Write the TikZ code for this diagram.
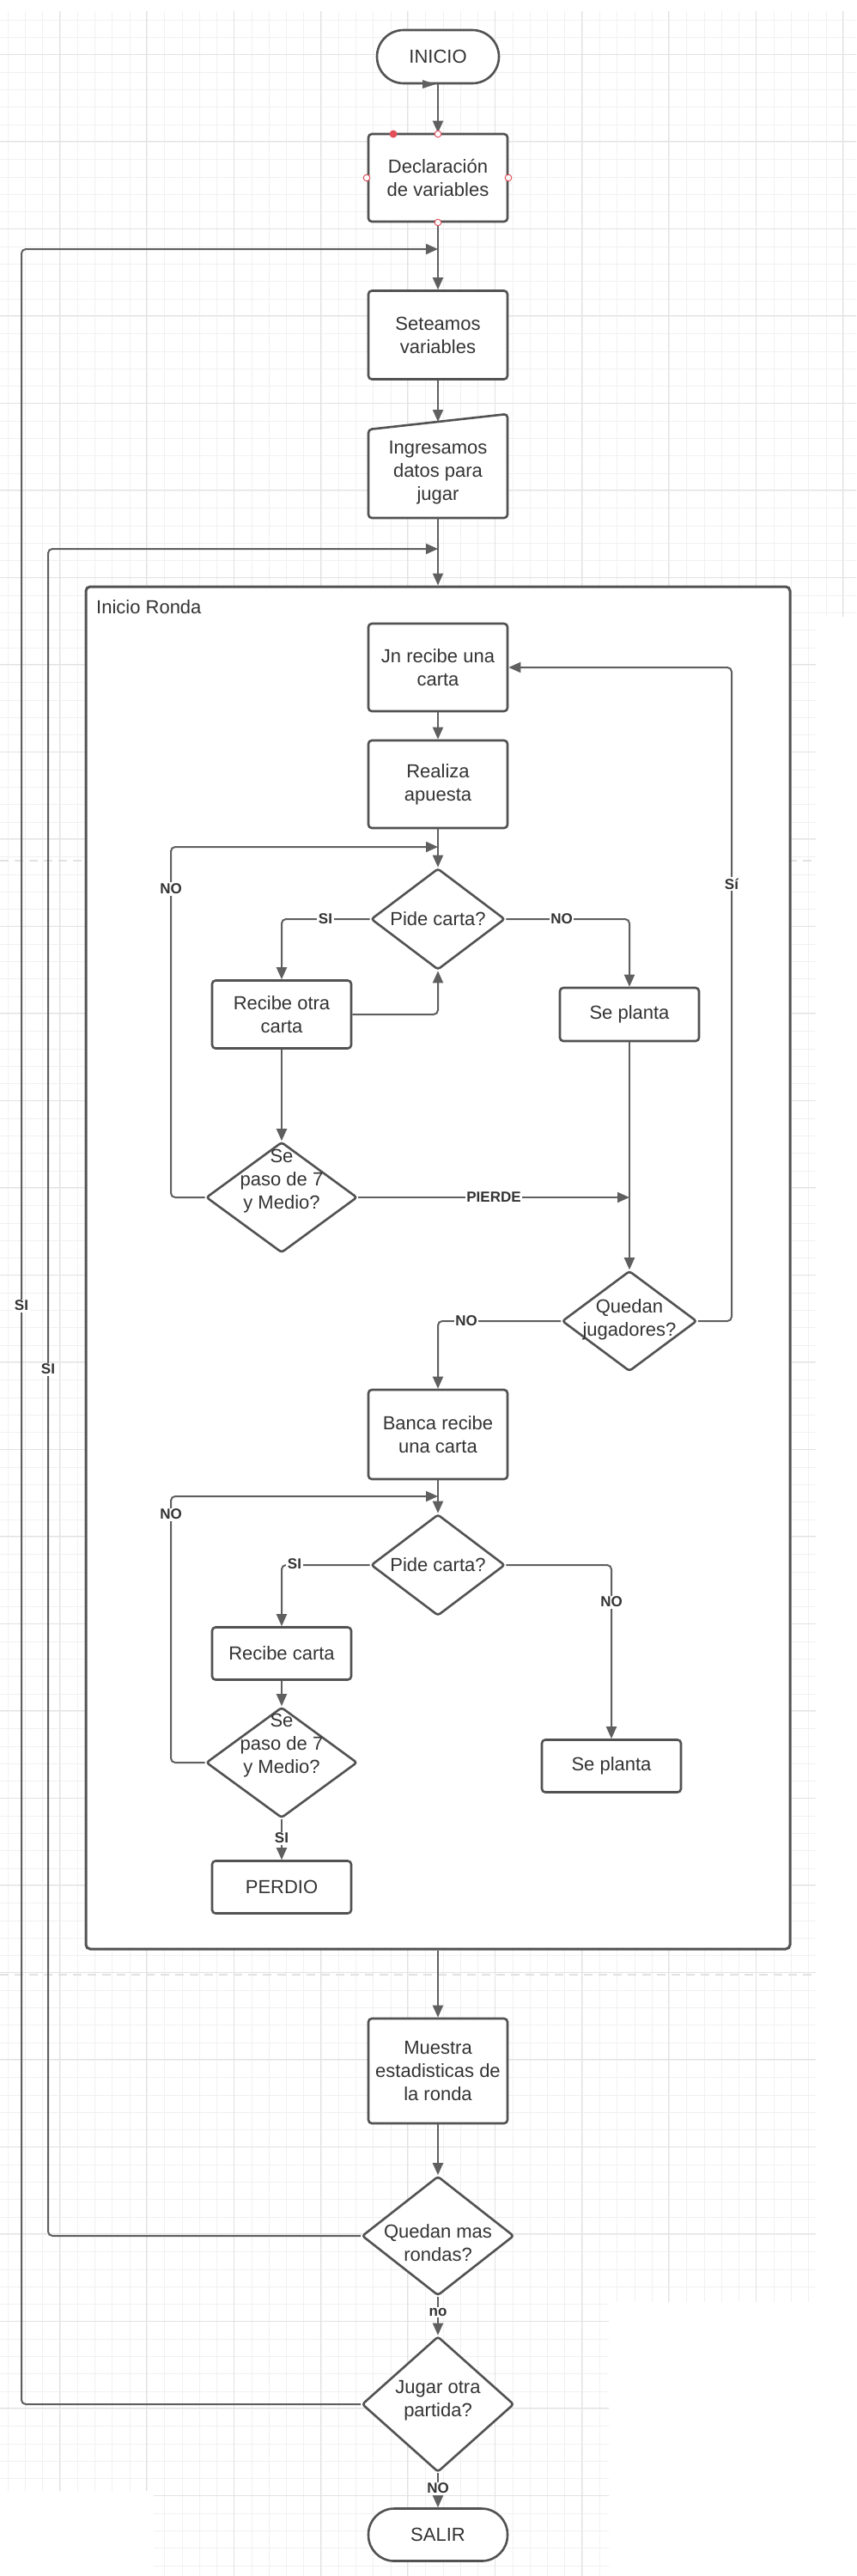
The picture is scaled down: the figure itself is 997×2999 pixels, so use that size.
\documentclass[tikz,border=0pt]{standalone}
\usepackage{fontspec}
\setmainfont{Liberation Sans}
\usetikzlibrary{arrows.meta,shapes.geometric}
\definecolor{linec}{RGB}{95,95,95}
\definecolor{boxc}{RGB}{82,82,82}
\definecolor{txtc}{RGB}{51,51,51}
\definecolor{gridminor}{RGB}{241,241,241}
\definecolor{gridmajor}{RGB}{226,226,226}
\definecolor{dotred}{RGB}{226,80,90}
\begin{document}
\begin{tikzpicture}[x=1pt,y=-1pt,
  box/.style={draw=boxc, line width=2.6pt, fill=white, rounded corners=4pt, minimum width=162pt, align=center, text=txtc, font=\fontsize{22pt}{27pt}\selectfont, inner sep=0pt},
  dia/.style={draw=boxc, line width=2.6pt, fill=white, diamond, rounded corners=3pt, inner sep=0pt},
  dtext/.style={align=center, text=txtc, font=\fontsize{22pt}{27pt}\selectfont, inner sep=0pt},
  conn/.style={draw=linec, line width=2pt, rounded corners=5pt},
  arr/.style={conn, -{Triangle[length=14pt,width=12pt]}},
  lbl/.style={fill=white, text=txtc, font=\fontsize{17pt}{20pt}\selectfont\bfseries, inner sep=1.5pt},
]
\useasboundingbox (0,0) rectangle (997,2999);
\fill[white] (0,0) rectangle (997,2999);
% background grid
\begin{scope}
\clip (0,13) rectangle (997,718) (0,718) rectangle (950,2680) (0,2680) rectangle (709,2900) (179,2900) rectangle (709,2999);
\foreach \i in {0,...,49} { \draw[gridminor, line width=1pt] ({9.3+\i*20.27},0) -- ++(0,3000); }
\foreach \i in {0,...,148} { \draw[gridminor, line width=1pt] (0,{3+\i*20.3}) -- ++(1000,0); }
\foreach \i in {0,...,9} { \draw[gridmajor, line width=1pt] ({69.3+\i*101.35},0) -- ++(0,3000); }
\foreach \i in {0,...,29} { \draw[gridmajor, line width=1pt] (0,{63.3+\i*101.5}) -- ++(1000,0); }
\end{scope}
\draw[gridmajor, line width=2pt, dash pattern=on 10pt off 7pt] (0,1002) -- (945,1002);
\draw[gridmajor, line width=2pt, dash pattern=on 10pt off 7pt] (0,2299) -- (948,2299);

% container
\node[draw=boxc, line width=3pt, fill=white, rounded corners=5pt, minimum width=820pt, minimum height=1586pt, inner sep=0pt] (ronda) at (510,1476) {};
\node[anchor=west, text=txtc, font=\fontsize{22pt}{27pt}\selectfont, inner sep=0pt] (rondat) at (112,707) {Inicio Ronda};

% nodes
\node[box, minimum width=142pt, minimum height=62pt, rounded corners=31pt] (inicio) at (510,66) {INICIO};
\node[box, minimum height=102pt] (decl) at (510,207) {Declaración\\de variables};
\node[box, minimum height=103pt] (setea) at (510,390) {Seteamos\\variables};
\node[minimum width=162pt, minimum height=121pt, inner sep=0pt] (ingr) at (510,542.5) {};
\draw[draw=boxc, line width=2.6pt, fill=white, rounded corners=4pt] (429,603) -- (429,500) -- (591,482) -- (591,603) -- cycle;
\node[dtext] (ingrt) at (510,550) {Ingresamos\\datos para\\jugar};
\coordinate (ingrtop) at (510,491);

\node[box, minimum height=102pt] (jn) at (510,777) {Jn recibe una\\carta};
\node[box, minimum height=102pt] (realiza) at (510,913) {Realiza\\apuesta};
\node[dia, minimum width=156pt, minimum height=118pt] (pide1) at (510,1070) {};
\node[dtext] (pide1t) at (510,1070) {Pide carta?};
\node[box, minimum height=79pt] (recibeotra) at (328,1181) {Recibe otra\\carta};
\node[box, minimum height=62pt] (seplanta1) at (733,1181) {Se planta};
\node[dia, minimum width=176pt, minimum height=129pt] (sepaso1) at (328,1394) {};
\node[dtext] (sepaso1t) at (328,1375) {Se\\paso de 7\\y Medio?};
\node[dia, minimum width=157pt, minimum height=117pt] (quedanj) at (733,1538) {};
\node[dtext] (quedanjt) at (733,1536) {Quedan\\jugadores?};
\node[box, minimum height=104pt] (banca) at (510,1670) {Banca recibe\\una carta};
\node[dia, minimum width=156pt, minimum height=118pt] (pide2) at (510,1822) {};
\node[dtext] (pide2t) at (510,1822) {Pide carta?};
\node[box, minimum height=61pt] (recibec) at (328,1925) {Recibe carta};
\node[dia, minimum width=176pt, minimum height=129pt] (sepaso2) at (328,2052) {};
\node[dtext] (sepaso2t) at (328,2032) {Se\\paso de 7\\y Medio?};
\node[box, minimum height=61pt] (seplanta2) at (712,2056) {Se planta};
\node[box, minimum height=61pt] (perdio) at (328,2197) {PERDIO};

\node[box, minimum height=122pt] (muestra) at (510,2411) {Muestra\\estadisticas de\\la ronda};
\node[dia, minimum width=177pt, minimum height=139pt] (quedanm) at (510,2603) {};
\node[dtext] (quedanmt) at (510,2611) {Quedan mas\\rondas?};
\node[dia, minimum width=177pt, minimum height=158pt] (jugar) at (510,2799) {};
\node[dtext] (jugart) at (510,2795) {Jugar otra\\partida?};
\node[box, minimum height=61pt, rounded corners=30pt] (salir) at (510,2951) {SALIR};

% merge points
\coordinate (m1) at (510,290);
\coordinate (m2) at (510,639);
\coordinate (m3) at (510,986);
\coordinate (m4) at (733,1394);
\coordinate (m5) at (510,1742);

% connectors
\draw[arr] (inicio.south) -- (decl.north);
\fill[linec] (492,93) -- (507,98) -- (492,103) -- cycle;
\draw[arr] (decl.south) -- (setea.north);
\draw[arr] (jugar.west) -| (25,290) -- (m1);
\draw[arr] (setea.south) -- (ingrtop);
\draw[arr] (ingr.south) -- (ronda.north);
\draw[arr] (quedanm.west) -| (56,639) -- (m2);

\draw[arr] (jn.south) -- (realiza.north);
\draw[arr] (realiza.south) -- (pide1.north);
\draw[arr] (pide1.west) -| (recibeotra.north);
\draw[arr] (pide1.east) -| (seplanta1.north);
\draw[arr] (recibeotra.east) -| (pide1.south);
\draw[arr] (recibeotra.south) -- (sepaso1.north);
\draw[arr] (sepaso1.west) -| (199,986) -- (m3);
\draw[arr] (sepaso1.east) -- (m4);
\draw[arr] (seplanta1.south) -- (quedanj.north);
\draw[arr] (quedanj.east) -| (852,777) -- (jn.east);
\draw[arr] (quedanj.west) -| (banca.north);
\draw[arr] (banca.south) -- (pide2.north);
\draw[arr] (sepaso2.west) -| (199,1742) -- (m5);
\draw[arr] (pide2.west) -| (recibec.north);
\draw[arr] (pide2.east) -| (seplanta2.north);
\draw[arr] (recibec.south) -- (sepaso2.north);
\draw[arr] (sepaso2.south) -- (perdio.north);

\draw[arr] (ronda.south) -- (muestra.north);
\draw[arr] (muestra.south) -- (quedanm.north);
\draw[arr] (quedanm.south) -- (jugar.north);
\draw[arr] (jugar.south) -- (salir.north);

% labels
\node[lbl] (l1) at (379,1070) {SI};
\node[lbl] (l2) at (654,1070) {NO};
\node[lbl] (l3) at (199,1035) {NO};
\node[lbl] (l4) at (575,1394) {PIERDE};
\node[lbl] (l5) at (852,1029) {Sí};
\node[lbl] (l6) at (543,1538) {NO};
\node[lbl] (l7) at (199,1763) {NO};
\node[lbl] (l8) at (343,1821) {SI};
\node[lbl] (l9) at (712,1865) {NO};
\node[lbl] (l10) at (328,2140) {SI};
\node[lbl] (l11) at (25,1520) {SI};
\node[lbl] (l12) at (56,1594) {SI};
\node[lbl] (l13) at (510,2692) {no};
\node[lbl] (l14) at (510,2897) {NO};

% selection handles
\fill[dotred] (458,156) circle (4.5pt);
\foreach \p in {(510,156),(427,207),(592,207),(510,259)} { \draw[dotred, fill=white, line width=1pt] \p circle (3.8pt); }
\end{tikzpicture}
\end{document}
